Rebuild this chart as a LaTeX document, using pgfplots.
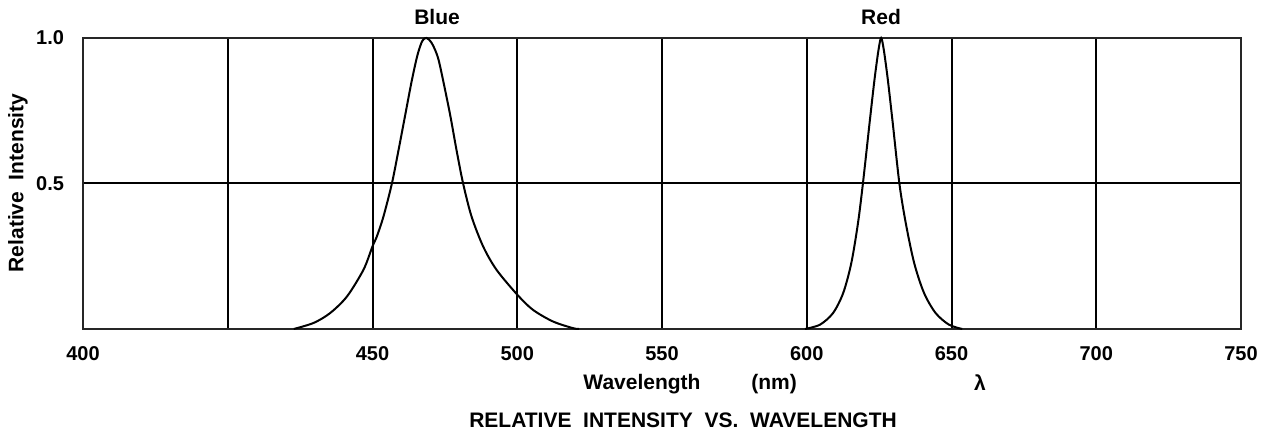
\documentclass[border=0pt]{standalone}
\usepackage{fontspec}
\setmainfont{Liberation Sans}
\usepackage{pgfplots}
\pgfplotsset{compat=1.18}
\pgfplotstableread{
lambda I
422.8 0
429.7 0.021
435.4 0.055
441.2 0.112
446.9 0.204
450 0.284
451.5 0.318
453.8 0.387
456.7 0.5
458.9 0.61
461.2 0.73
463.5 0.85
465.5 0.94
467.2 0.99
468.7 1.0
470.3 0.985
472 0.95
473.3 0.905
476.7 0.742
479 0.616
481.3 0.5
484.2 0.387
488.2 0.284
492.8 0.204
500 0.118
505.4 0.066
512.3 0.026
519.2 0.003
521.4 0
}\blue
\pgfplotstableread{
lambda I
599.4 0
604.6 0.015
609.1 0.055
612.6 0.124
615.4 0.227
617.7 0.364
619.4 0.5
621.7 0.708
623.4 0.857
624.8 0.96
625.7 1.0
626.6 0.96
628 0.857
629.7 0.708
632 0.5
634.2 0.364
637.1 0.227
640.5 0.124
644.5 0.055
649.1 0.015
653.7 0
}\red
\begin{document}
\begin{tikzpicture}[x=1pt,y=1pt]
\useasboundingbox (0,0) rectangle (634,221);
\begin{axis}[
  at={(41.5pt,56.5pt)}, anchor=south west,
  scale only axis, width=579pt, height=145.5pt,
  xmin=350, xmax=750, ymin=0, ymax=1,
  xtick={350,400,...,750},
  xticklabels={400,,450,500,550,600,650,700,750},
  ytick={0,0.5,1}, yticklabels={,0.5,1.0},
  grid=major,
  major grid style={black, line width=1pt},
  axis line style={black!85, line width=1.2pt},
  major tick length=0pt,
  /pgf/number format/assume math mode=true,
  ticklabel style={font=\bfseries\fontsize{10}{12}\selectfont},
  xticklabel style={yshift=-5pt},
  yticklabel style={xshift=-6pt},
  clip=false,
]
\addplot[black, line width=1pt, smooth, tension=0.5] table[x=lambda, y=I] {\blue};
\addplot[black, line width=1pt, smooth, tension=0.5] table[x=lambda, y=I] {\red};
\end{axis}
\begin{scope}[every node/.style={font=\bfseries\fontsize{10.5}{12}\selectfont, inner sep=0pt}]
\node at (218.5,212.5) {Blue};
\node at (440.5,212.5) {Red};
\node at (321,29) {Wavelength};
\node at (387,29) {(nm)};
\node at (490,29.5) {λ};
\node at (341.5,11) {RELATIVE\ \ INTENSITY\ \ VS.\ \ WAVELENGTH};
\node[rotate=90] at (9,129.5) {Relative\ \ Intensity};
\end{scope}
\end{tikzpicture}
\end{document}
